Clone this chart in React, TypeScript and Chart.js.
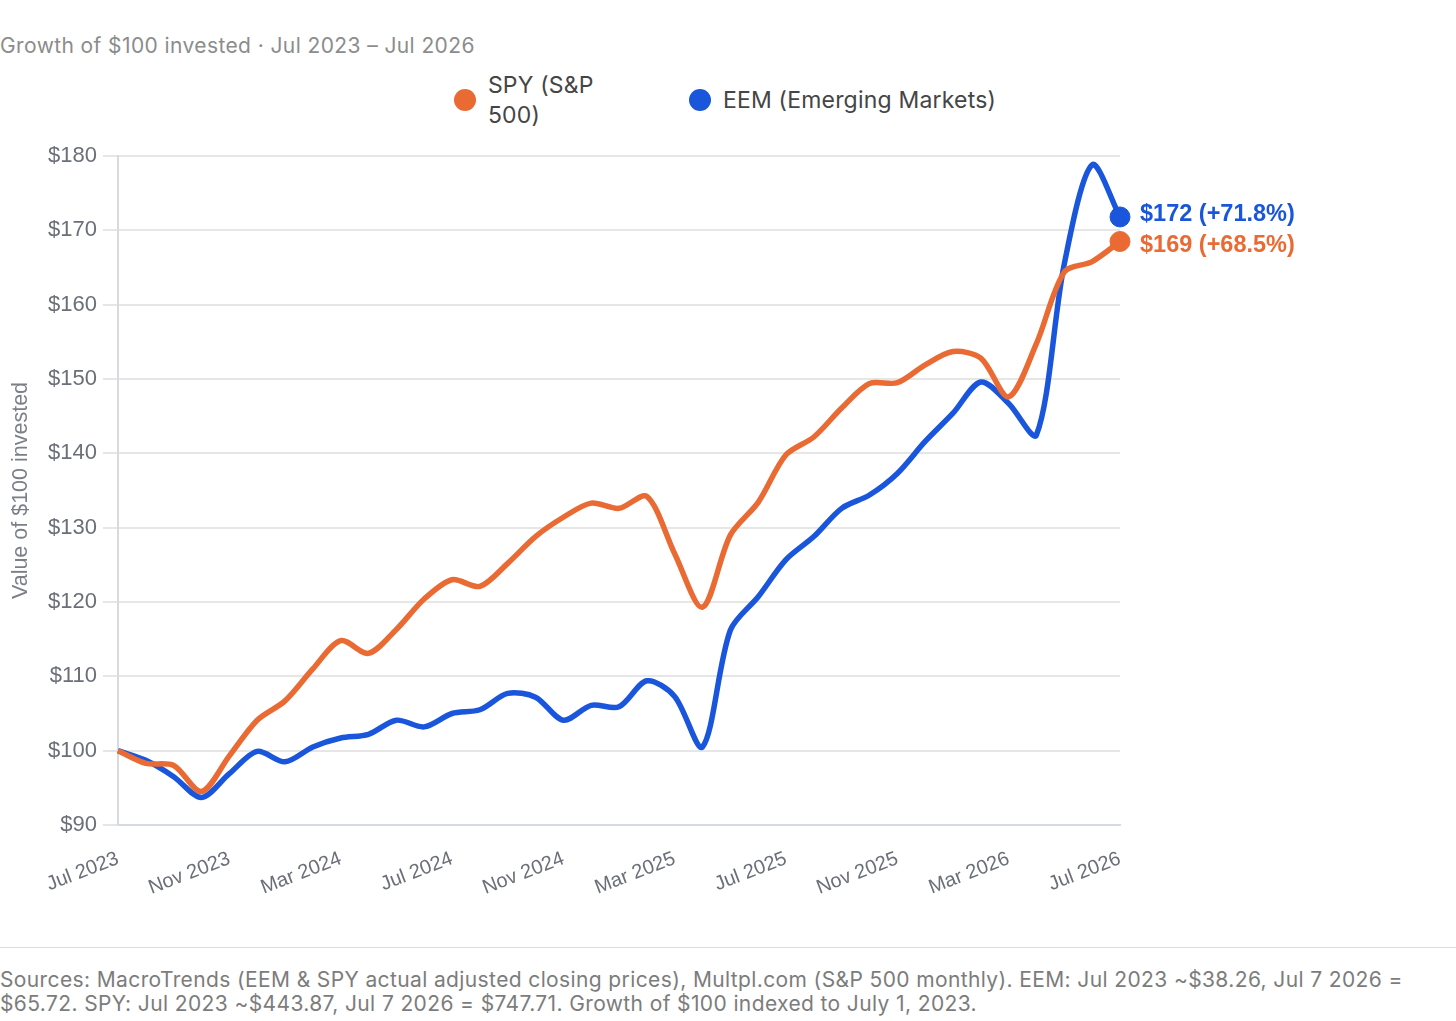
import React, { useEffect, useRef } from 'react';
import { Chart, registerables } from 'chart.js';

Chart.register(...registerables);

// monthly, Jul 2023 .. Jul 2026
const months = [
  'Jul 2023', 'Aug 2023', 'Sep 2023', 'Oct 2023', 'Nov 2023', 'Dec 2023',
  'Jan 2024', 'Feb 2024', 'Mar 2024', 'Apr 2024', 'May 2024', 'Jun 2024',
  'Jul 2024', 'Aug 2024', 'Sep 2024', 'Oct 2024', 'Nov 2024', 'Dec 2024',
  'Jan 2025', 'Feb 2025', 'Mar 2025', 'Apr 2025', 'May 2025', 'Jun 2025',
  'Jul 2025', 'Aug 2025', 'Sep 2025', 'Oct 2025', 'Nov 2025', 'Dec 2025',
  'Jan 2026', 'Feb 2026', 'Mar 2026', 'Apr 2026', 'May 2026', 'Jun 2026',
  'Jul 2026',
];

// labels shown on the x axis
const tickLabels = [
  'Jul 2023', 'Nov 2023', 'Mar 2024', 'Jul 2024', 'Nov 2024',
  'Mar 2025', 'Jul 2025', 'Nov 2025', 'Mar 2026', 'Jul 2026',
];

const spyValues = [
  100, 98.3, 98.0, 94.5, 99.3, 104.1, 106.7, 111.0, 114.8, 113.1, 116.3, 120.4,
  123.0, 122.1, 125.2, 128.8, 131.4, 133.3, 132.6, 134.2, 126.5, 119.3, 129.0, 133.4,
  139.8, 142.2, 146.1, 149.4, 149.5, 151.9, 153.7, 152.8, 147.6, 154.8, 164.4, 165.8,
  168.5,
];

const eemValues = [
  100, 98.7, 96.5, 93.7, 96.9, 99.9, 98.5, 100.5, 101.7, 102.2, 104.1, 103.2,
  105.0, 105.5, 107.7, 107.2, 104.1, 106.1, 105.9, 109.4, 107.3, 100.5, 116.2, 120.7,
  125.7, 128.8, 132.6, 134.4, 137.3, 141.6, 145.4, 149.6, 146.7, 142.5, 165.5, 178.8,
  171.8,
];

const SPY_COLOR = '#ea6a33';
const EEM_COLOR = '#1a56db';
const CHART_FONT = "'Helvetica Neue', Helvetica, Arial, 'Liberation Sans', sans-serif";
const UI_FONT = "Inter, 'Noto Sans', sans-serif";

// draws "$172 (+71.8%)" next to the last point of each line
const endLabels = {
  id: 'endLabels',
  afterDatasetsDraw(chart: Chart) {
    const { ctx } = chart;
    const items = chart.data.datasets.map((ds, i) => {
      const meta = chart.getDatasetMeta(i);
      const last = meta.data[meta.data.length - 1];
      const v = ds.data[ds.data.length - 1] as number;
      return {
        x: last.x,
        y: last.y,
        color: ds.borderColor as string,
        text: `$${Math.round(v)} (+${(v - 100).toFixed(1)}%)`,
      };
    });
    items.sort((a, b) => a.y - b.y);
    const gap = 31;
    for (let i = 1; i < items.length; i++) {
      const d = items[i].y - items[i - 1].y;
      if (d < gap) {
        const push = (gap - d) / 2;
        items[i - 1].y -= push;
        items[i].y += push;
      }
    }
    ctx.save();
    ctx.font = `bold 23.5px ${CHART_FONT}`;
    ctx.textBaseline = 'middle';
    ctx.textAlign = 'left';
    items.forEach((it) => {
      ctx.fillStyle = it.color;
      ctx.fillText(it.text, it.x + 20, it.y + 1);
    });
    ctx.restore();
  },
};

const GrowthChart: React.FC = () => {
  const chartRef = useRef<HTMLCanvasElement>(null);
  const chartInstance = useRef<Chart | null>(null);

  useEffect(() => {
    if (!chartRef.current) return;
    if (chartInstance.current) chartInstance.current.destroy();

    const lastIdx = months.length - 1;
    const ctx = chartRef.current.getContext('2d');
    if (!ctx) return;

    chartInstance.current = new Chart(ctx, {
      type: 'line',
      data: {
        labels: months,
        datasets: [
          {
            label: 'SPY (S&P 500)',
            data: spyValues,
            borderColor: SPY_COLOR,
            backgroundColor: SPY_COLOR,
            borderWidth: 5.5,
            tension: 0.3,
            pointRadius: (c: any) => (c.dataIndex === lastIdx ? 10 : 0),
            pointBorderWidth: 1,
            pointBackgroundColor: SPY_COLOR,
          },
          {
            label: 'EEM (Emerging Markets)',
            data: eemValues,
            borderColor: EEM_COLOR,
            backgroundColor: EEM_COLOR,
            borderWidth: 5.5,
            tension: 0.3,
            pointRadius: (c: any) => (c.dataIndex === lastIdx ? 10 : 0),
            pointBorderWidth: 1,
            pointBackgroundColor: EEM_COLOR,
          },
        ],
      },
      options: {
        responsive: true,
        maintainAspectRatio: false,
        animation: false,
        layout: {
          padding: { top: 26, right: 336, left: 0, bottom: 0 },
        },
        font: { family: CHART_FONT },
        plugins: {
          legend: { display: false },
          tooltip: { enabled: false },
        },
        scales: {
          x: {
            grid: { display: false },
            border: { display: true, color: '#d6dae1', width: 2 },
            ticks: {
              autoSkip: false,
              minRotation: 21,
              maxRotation: 21,
              padding: 14,
              color: '#6b6f78',
              font: { family: CHART_FONT, size: 20 },
              callback: (_v: any, i: number) =>
                tickLabels.includes(months[i]) ? months[i] : '',
            },
            afterFit: (s: any) => {
              s.height = 105;
            },
          },
          y: {
            min: 90,
            max: 180,
            grid: { color: '#e6e6e6', lineWidth: 2, tickLength: 15 },
            border: { display: true, color: '#d6dae1', width: 2 },
            ticks: {
              stepSize: 10,
              padding: 6,
              color: '#6b6f78',
              font: { family: CHART_FONT, size: 22 },
              callback: (v: any) => `$${v}`,
            },
            title: {
              display: true,
              text: 'Value of $100 invested',
              color: '#7b7f88',
              font: { family: CHART_FONT, size: 21.5 },
              padding: { top: 8, bottom: 0 },
            },
            afterFit: (s: any) => {
              s.width = 118;
            },
          },
        },
      },
      plugins: [endLabels],
    });

    return () => {
      if (chartInstance.current) {
        chartInstance.current.destroy();
        chartInstance.current = null;
      }
    };
  }, []);

  return (
    <div style={{ position: 'absolute', left: 0, top: 130, width: 1456, height: 800 }}>
      <canvas ref={chartRef}></canvas>
    </div>
  );
};

const Dot: React.FC<{ color: string }> = ({ color }) => (
  <span
    style={{
      display: 'inline-block',
      width: 22,
      height: 22,
      borderRadius: '50%',
      background: color,
      flex: '0 0 auto',
      marginRight: 12,
    }}
  />
);

const App: React.FC = () => {
  useEffect(() => {
    document.body.style.margin = '0';
  }, []);

  return (
    <div style={{ position: 'relative', width: 1456, height: 1021, overflow: 'hidden', fontFamily: UI_FONT }}>
      <div
        style={{
          position: 'absolute', left: 0, top: 34, lineHeight: '24px',
          fontSize: 21, letterSpacing: 0.4, color: '#8c8c8c',
        }}
      >
        Growth of $100 invested · Jul 2023 – Jul 2026
      </div>

      <div
        style={{
          position: 'absolute', left: -3, top: 70, width: 1456, height: 60,
          display: 'flex', justifyContent: 'center', alignItems: 'center',
          fontSize: 23, letterSpacing: 0.2, lineHeight: '30px', color: '#454545',
        }}
      >
        <div style={{ display: 'flex', alignItems: 'center', marginRight: 66 }}>
          <Dot color={SPY_COLOR} />
          <span style={{ width: 135 }}>SPY (S&amp;P 500)</span>
        </div>
        <div style={{ display: 'flex', alignItems: 'center' }}>
          <Dot color={EEM_COLOR} />
          <span>EEM (Emerging Markets)</span>
        </div>
      </div>

      <GrowthChart />

      <div style={{ position: 'absolute', left: 0, top: 947, width: 1456, borderTop: '1.5px solid #dcdcdc' }} />

      <div
        style={{
          position: 'absolute', left: 0, top: 968, width: 1456,
          fontSize: 21, letterSpacing: 0.38, lineHeight: '24px', color: '#7c7c7c',
        }}
      >
        Sources: MacroTrends (EEM &amp; SPY actual adjusted closing prices), Multpl.com (S&amp;P 500 monthly). EEM: Jul 2023 ~$38.26, Jul 7 2026 = $65.72. SPY: Jul 2023 ~$443.87, Jul 7 2026 = $747.71. Growth of $100 indexed to July 1, 2023.
      </div>
    </div>
  );
};

export default App;
